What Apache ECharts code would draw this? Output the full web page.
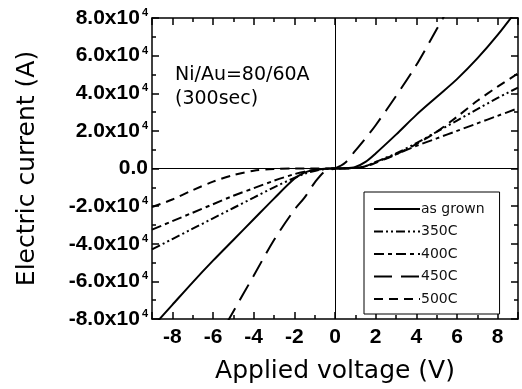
<!DOCTYPE html>
<html lang="en">
<head>
    <meta charset="UTF-8">
    <title>I-V</title>
</head>
<script src="https://cdn.jsdelivr.net/npm/echarts@6/dist/echarts.min.js"></script>
<style>
    *{
        margin: 0;
        padding: 0;
    }
    body,html{
        width: 100%;
        height: 100%;
        overflow: hidden;
        background: #fff;
    }
    .box{
        width: 522px;
        height: 389px;
    }
</style>
<body>
<div class="box"></div>
<script>
    // applied voltage (V)
    let voltage = [-9, -8, -7, -6, -5, -4, -3, -2, -1.5, -1, -0.5, 0, 0.5, 1, 1.5, 2, 3, 4, 5, 6, 7, 8, 9];
    // electric current, in units of 10^-4 A
    let asGrown = [-8.45, -7.25, -6.05, -4.9, -3.8, -2.7, -1.6, -0.55, -0.22, -0.07, -0.01, 0, 0.01, 0.08, 0.35, 0.8, 1.8, 2.85, 3.8, 4.75, 5.85, 7.1, 8.5];
    let c350 = [-4.3, -3.75, -3.2, -2.65, -2.1, -1.55, -1.0, -0.5, -0.28, -0.13, -0.03, 0, 0.01, 0.03, 0.12, 0.35, 0.8, 1.35, 1.95, 2.55, 3.15, 3.75, 4.3];
    let c400 = [-3.25, -2.8, -2.35, -1.9, -1.45, -1.05, -0.65, -0.3, -0.17, -0.08, -0.02, 0, 0.01, 0.03, 0.12, 0.33, 0.75, 1.2, 1.6, 2.0, 2.4, 2.8, 3.2];
    let c450 = [null, null, null, -9.5, -7.6, -5.7, -3.8, -2.2, -1.55, -0.75, -0.15, 0, 0.3, 0.95, 1.6, 2.3, 3.85, 5.5, 7.4, 9.3, null, null, null];
    let c500 = [-2.05, -1.65, -1.15, -0.7, -0.35, -0.12, -0.03, 0, 0, 0, 0, 0, 0, 0.02, 0.1, 0.3, 0.75, 1.3, 1.95, 2.75, 3.6, 4.35, 5.05];

    let names = ['as grown', '350C', '400C', '450C', '500C'];
    let currents = [asGrown, c350, c400, c450, c500];
    let dashes = ['solid', [9, 3, 2, 3, 2, 3], [10, 4, 4, 4], [18, 9], [9, 6]];

    let myChart = echarts.init(document.querySelector('.box'));

    let series = names.map((name, i) => {
        let obj = {
            name: name,
            type: 'line',
            data: voltage.map((v, k) => [v, currents[i][k]]),
            symbol: 'none',
            smooth: 0.3,
            clip: true,
            lineStyle: {color: '#000', width: 2, type: dashes[i]},
            itemStyle: {color: '#000'}
        };
        if (i == 0) {
            obj.markLine = {
                silent: true,
                symbol: 'none',
                label: {show: false},
                lineStyle: {color: '#000', width: 1, type: 'solid'},
                data: [{xAxis: 0}, {yAxis: 0}]
            };
        }
        return obj;
    });

    let tickFont = {fontFamily: 'Liberation Sans', fontWeight: 'bold', fontSize: 21, color: '#000'};
    let frame = {show: true, onZero: false, lineStyle: {color: '#000', width: 1.5}};
    let ticks = {inside: true, length: 7, lineStyle: {color: '#000', width: 1.5}};
    let minor = {show: true, splitNumber: 2, length: 4, lineStyle: {color: '#000', width: 1.5}};

    let option = {
        animation: false,
        backgroundColor: '#fff',
        grid: {left: 152, right: 4, top: 18, bottom: 67},
        xAxis: [{
            type: 'value',
            min: -9,
            max: 9,
            splitNumber: 9,
            position: 'bottom',
            axisLine: frame,
            axisTick: ticks,
            minorTick: minor,
            splitLine: {show: false},
            axisLabel: Object.assign({margin: 8, showMinLabel: false, showMaxLabel: false}, tickFont),
            name: 'Applied voltage (V)',
            nameLocation: 'middle',
            nameGap: 40,
            nameTextStyle: {fontFamily: 'DejaVu Sans', fontSize: 25, color: '#000'}
        }, {
            type: 'value',
            min: -9,
            max: 9,
            splitNumber: 9,
            position: 'top',
            axisLine: frame,
            axisTick: ticks,
            minorTick: minor,
            splitLine: {show: false},
            axisLabel: {show: false}
        }],
        yAxis: [{
            type: 'value',
            min: -8,
            max: 8,
            interval: 2,
            position: 'left',
            axisLine: frame,
            axisTick: ticks,
            minorTick: minor,
            splitLine: {show: false},
            axisLabel: {
                margin: 4,
                formatter: function (v) {
                    if (v == 0) return '{a|0.0}';
                    return '{a|' + v.toFixed(1) + 'x10}{s|4}';
                },
                rich: {
                    a: tickFont,
                    s: {fontFamily: 'Liberation Sans', fontWeight: 'bold', fontSize: 11, color: '#000', verticalAlign: 'top', padding: [0, 0, 0, 2]}
                }
            },
            name: 'Electric current (A)',
            nameLocation: 'middle',
            nameGap: 112,
            nameTextStyle: {fontFamily: 'DejaVu Sans', fontSize: 25, color: '#000'}
        }, {
            type: 'value',
            min: -8,
            max: 8,
            interval: 2,
            position: 'right',
            axisLine: frame,
            axisTick: ticks,
            minorTick: minor,
            splitLine: {show: false},
            axisLabel: {show: false}
        }],
        legend: {
            data: names,
            orient: 'vertical',
            left: 364,
            top: 192,
            padding: [10, 15, 8, 9],
            itemWidth: 46,
            itemHeight: 14,
            itemGap: 8.5,
            borderColor: '#000',
            borderWidth: 1,
            backgroundColor: '#fff',
            itemStyle: {opacity: 0},
            textStyle: {fontFamily: 'DejaVu Sans', fontSize: 14, color: '#111', padding: [0, 0, 0, -4]}
        },
        graphic: [{
            type: 'text',
            left: 175,
            top: 66,
            style: {text: 'Ni/Au=80/60A', font: '19px "DejaVu Sans"', fill: '#000'}
        }, {
            type: 'text',
            left: 175,
            top: 90,
            style: {text: '(300sec)', font: '19px "DejaVu Sans"', fill: '#000'}
        }],
        series
    };

    myChart.setOption(option);
</script>
</body>
</html>
